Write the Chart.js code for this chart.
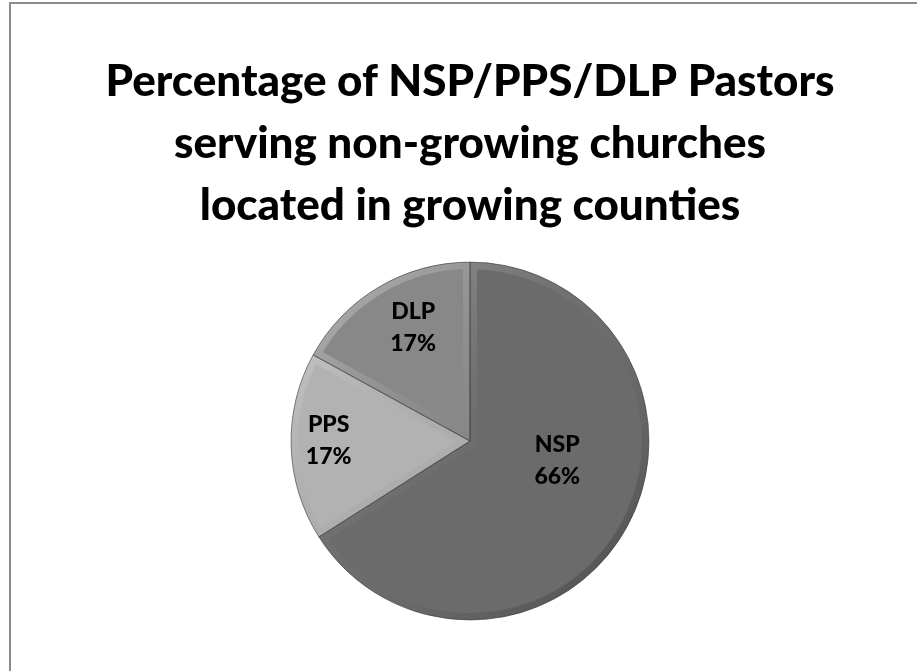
<!DOCTYPE html>
<html>
<head>
<meta charset="utf-8">
<script src="https://cdn.jsdelivr.net/npm/chart.js@4.4.0/dist/chart.umd.min.js"></script>
<style>
  html, body { margin: 0; padding: 0; background: #fff; }
  #frame {
    position: absolute; left: 9px; top: 2px;
    width: 908px; height: 669px;
    border-left: 2px solid #8c8c8c; border-top: 2px solid #8c8c8c;
    box-sizing: border-box;
  }
  #wrap { position: absolute; left: 0; top: 0; width: 906px; height: 667px; }
</style>
</head>
<body>
<div id="frame"><div id="wrap"><canvas id="chart"></canvas></div></div>
<script>
var titleLines = ['Percentage of NSP/PPS/DLP Pastors', 'serving non-growing churches', 'located in growing counties'];
var categories = ['NSP', 'PPS', 'DLP'];
var shares = [66, 17, 17];
var sliceColors = ['#6b6b6b', '#b2b2b2', '#888888'];

// where each label sits inside its slice: fraction of radius, angle shift in degrees
var labelRadius = [0.5, 0.79, 0.71];
var labelShift = [-16, 2, 4];

var bevel = {
  id: 'bevel',
  afterDatasetsDraw: function(chart) {
    var ctx = chart.ctx;
    var arcs = chart.getDatasetMeta(0).data;
    arcs.forEach(function(arc) {
      var p = arc.getProps(['x', 'y', 'startAngle', 'endAngle', 'outerRadius']);
      ctx.save();
      ctx.beginPath();
      ctx.moveTo(p.x, p.y);
      ctx.arc(p.x, p.y, p.outerRadius, p.startAngle, p.endAngle);
      ctx.closePath();
      ctx.clip();
      var g = ctx.createLinearGradient(p.x - p.outerRadius, p.y - p.outerRadius, p.x + p.outerRadius, p.y + p.outerRadius);
      g.addColorStop(0, 'rgba(255,255,255,0.45)');
      g.addColorStop(0.5, 'rgba(128,128,128,0.1)');
      g.addColorStop(1, 'rgba(0,0,0,0.35)');
      ctx.strokeStyle = g;
      ctx.lineWidth = 14;
      ctx.lineJoin = 'miter';
      ctx.stroke();
      ctx.restore();
      ctx.save();
      ctx.beginPath();
      ctx.moveTo(p.x, p.y);
      ctx.arc(p.x, p.y, p.outerRadius, p.startAngle, p.endAngle);
      ctx.closePath();
      ctx.strokeStyle = 'rgba(60,60,60,0.6)';
      ctx.lineWidth = 1;
      ctx.stroke();
      ctx.restore();
    });
  }
};

var sliceLabels = {
  id: 'sliceLabels',
  afterDraw: function(chart) {
    var ctx = chart.ctx;
    var total = shares.reduce(function(a, b) { return a + b; }, 0);
    var arcs = chart.getDatasetMeta(0).data;
    ctx.save();
    ctx.font = '900 23px Lato';
    ctx.fillStyle = '#000';
    ctx.textAlign = 'center';
    ctx.textBaseline = 'middle';
    arcs.forEach(function(arc, i) {
      var p = arc.getProps(['x', 'y', 'startAngle', 'endAngle', 'outerRadius']);
      var mid = (p.startAngle + p.endAngle) / 2 + labelShift[i] * Math.PI / 180;
      var r = p.outerRadius * labelRadius[i];
      var cx = p.x + Math.cos(mid) * r;
      var cy = p.y + Math.sin(mid) * r;
      ctx.fillText(categories[i], cx, cy - 16);
      ctx.fillText(Math.round(shares[i] / total * 100) + '%', cx, cy + 16);
    });
    ctx.restore();
  }
};

var ctx = document.getElementById('chart').getContext('2d');
var chart = new Chart(ctx, {
  type: 'pie',
  data: {
    labels: categories,
    datasets: [{
      data: shares,
      backgroundColor: sliceColors,
      borderWidth: 0
    }]
  },
  options: {
    responsive: true,
    maintainAspectRatio: false,
    animation: false,
    layout: { padding: { left: 12, bottom: 51 } },
    plugins: {
      legend: { display: false },
      tooltip: { enabled: false },
      title: {
        display: true,
        text: titleLines,
        color: '#000',
        font: { family: 'Lato', size: 44, weight: '900', lineHeight: 1.41 },
        padding: { top: 47, bottom: 25 }
      }
    }
  },
  plugins: [bevel, sliceLabels]
});
</script>
</body>
</html>
